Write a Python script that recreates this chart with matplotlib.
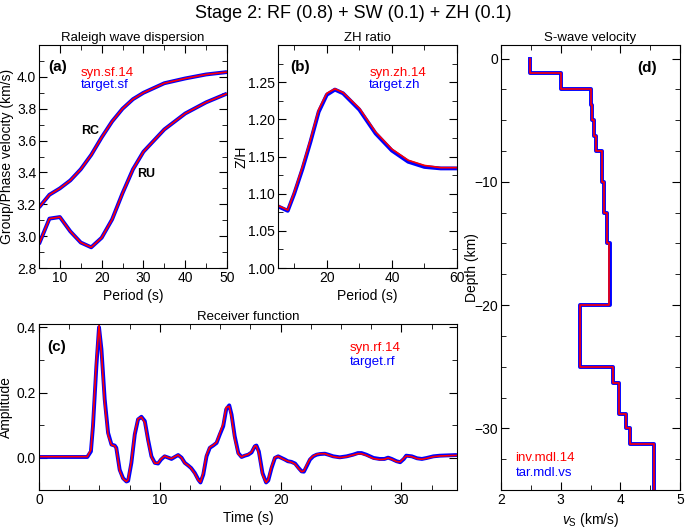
import numpy as np
import matplotlib
matplotlib.use("Agg")
import matplotlib.pyplot as plt
from matplotlib.ticker import MultipleLocator

plt.rcParams['font.family'] = ['Liberation Sans', 'DejaVu Sans']
plt.rcParams['mathtext.fontset'] = 'custom'
plt.rcParams['mathtext.rm'] = 'Liberation Sans'
plt.rcParams['mathtext.it'] = 'Liberation Sans:italic'

# (a) Rayleigh wave dispersion
sf_period = [5, 7.5, 10, 12.5, 15, 17.5, 20, 22.5, 25, 27.5, 30, 35, 40, 45, 50]
rc_target = [3.18, 3.26, 3.30, 3.35, 3.42, 3.51, 3.62, 3.72, 3.80, 3.86, 3.90, 3.96, 3.99, 4.015, 4.03]
rc_syn = [3.18, 3.26, 3.30, 3.35, 3.42, 3.51, 3.62, 3.72, 3.80, 3.86, 3.90, 3.96, 3.99, 4.015, 4.03]
ru_target = [2.95, 3.11, 3.12, 3.03, 2.96, 2.93, 2.99, 3.105, 3.27, 3.42, 3.53, 3.67, 3.77, 3.84, 3.895]
ru_syn = [2.95, 3.11, 3.12, 3.03, 2.96, 2.93, 2.99, 3.105, 3.27, 3.42, 3.53, 3.67, 3.77, 3.84, 3.895]

# (b) ZH ratio
zh_period = [5, 8, 10, 12.5, 15, 17.5, 20, 22.5, 25, 30, 35, 40, 45, 50, 55, 60]
zh_target = [1.083, 1.077, 1.100, 1.133, 1.170, 1.210, 1.233, 1.240, 1.235, 1.213, 1.181, 1.158, 1.143, 1.136, 1.134, 1.134]
zh_syn = [1.084, 1.078, 1.102, 1.136, 1.173, 1.213, 1.235, 1.241, 1.236, 1.215, 1.183, 1.160, 1.145, 1.138, 1.135, 1.135]

# (c) receiver function
rf_time = [0, 4.0, 4.3, 4.47, 4.75, 4.97, 5.17, 5.44, 5.72, 6.0, 6.27, 6.4, 6.68, 6.96, 7.24, 7.38,
           7.65, 7.93, 8.2, 8.48, 8.76, 9.03, 9.31, 9.59, 9.86, 10.1, 10.4, 10.7, 10.97, 11.24,
           11.52, 11.8, 12.07, 12.35, 12.6, 12.9, 13.2, 13.37, 13.6, 13.87, 14.14, 14.42, 14.7,
           14.97, 15.25, 15.5, 15.75, 15.94, 16.2, 16.5, 16.77, 17.04, 17.32, 17.6, 17.87, 18.0,
           18.2, 18.5, 18.8, 18.98, 19.25, 19.53, 19.8, 20.08, 20.36, 20.6, 20.9, 21.2, 21.5,
           21.74, 21.93, 22.15, 22.43, 22.7, 22.98, 23.26, 23.67, 23.95, 24.36, 24.9, 25.47, 26.0,
           26.4, 26.7, 27.1, 27.7, 28.2, 28.6, 28.9, 29.2, 29.6, 29.9, 30.2, 30.4, 30.86, 31.3,
           31.7, 32.1, 32.65, 33.2, 33.9, 34.6]
rf_target = [0.003, 0.003, 0.02, 0.097, 0.28, 0.40, 0.333, 0.18, 0.077, 0.041, 0.038, 0.031, -0.036,
             -0.062, -0.072, -0.070, -0.015, 0.072, 0.118, 0.126, 0.113, 0.056, 0.005, -0.015,
             -0.017, -0.005, 0.005, 0.001, -0.003, 0.003, 0.009, 0.001, -0.015, -0.023, -0.031,
             -0.046, -0.067, -0.075, -0.051, 0.005, 0.031, 0.038, 0.046, 0.072, 0.097, 0.149, 0.161,
             0.133, 0.067, 0.015, 0.003, 0.007, 0.010, 0.017, 0.036, 0.038, 0.020, -0.046, -0.075,
             -0.069, -0.031, 0.0, 0.005, 0.0, -0.005, -0.010, -0.012, -0.017, -0.031, -0.041,
             -0.042, -0.026, -0.005, 0.005, 0.010, 0.012, 0.013, 0.010, 0.005, 0.002, 0.005, 0.010,
             0.015, 0.015, 0.010, 0.0, -0.003, -0.003, 0.001, -0.003, -0.010, -0.013, -0.003, 0.007,
             0.005, -0.001, -0.003, 0.0, 0.005, 0.007, 0.008, 0.009]
rf_syn = [0.004, 0.004, 0.025, 0.11, 0.30, 0.405, 0.32, 0.165, 0.07, 0.040, 0.037, 0.028, -0.040,
          -0.064, -0.072, -0.066, -0.008, 0.078, 0.120, 0.125, 0.108, 0.050, 0.002, -0.016,
          -0.016, -0.003, 0.006, 0.001, -0.002, 0.004, 0.009, 0.000, -0.016, -0.023, -0.032,
          -0.048, -0.069, -0.074, -0.045, 0.010, 0.033, 0.039, 0.048, 0.076, 0.105, 0.155, 0.158,
          0.125, 0.058, 0.012, 0.003, 0.008, 0.011, 0.019, 0.037, 0.036, 0.014, -0.052, -0.075,
          -0.066, -0.026, 0.002, 0.005, -0.001, -0.006, -0.010, -0.013, -0.019, -0.033, -0.042,
          -0.040, -0.022, -0.003, 0.006, 0.011, 0.013, 0.013, 0.009, 0.004, 0.001, 0.004, 0.009,
          0.013, 0.013, 0.008, -0.002, -0.005, -0.004, 0.000, -0.004, -0.011, -0.012, -0.001, 0.006,
          0.004, -0.002, -0.004, -0.001, 0.004, 0.006, 0.007, 0.008]

# (d) S-wave velocity model (layer tops in km, vs in km/s)
mdl_depth = [0, 1.15, 2.5, 3.75, 5.0, 6.25, 7.5, 10.0, 12.5, 15.0, 20.0, 25.05, 26.3, 28.8, 30.0, 31.3, 35.0]
tar_vs = [2.49, 3.00, 3.50, 3.53, 3.56, 3.59, 3.69, 3.73, 3.77, 3.82, 3.32, 3.88, 3.97, 4.10, 4.16, 4.56]
inv_vs = [2.49, 3.00, 3.50, 3.53, 3.56, 3.60, 3.70, 3.72, 3.78, 3.81, 3.32, 3.88, 3.97, 4.10, 4.16, 4.57]

BLUE = '#0000ff'
RED = '#ff0000'


def style(ax):
    ax.tick_params(which='both', direction='in', top=True, right=True, labelsize=10, pad=2)
    ax.tick_params(which='major', length=6)
    ax.tick_params(which='minor', length=3.5)


def pair(ax, x, yt, ys):
    ax.plot(x, yt, color=BLUE, lw=2.8, solid_capstyle='butt')
    ax.plot(x, ys, color=RED, lw=1.2, solid_capstyle='butt')


fig = plt.figure(figsize=(6.85, 5.3), dpi=100)
fig.suptitle('Stage 2: RF (0.8) + SW (0.1) + ZH (0.1)', x=0.515, y=0.99, fontsize=13)

# (a)
ax1 = fig.add_axes([0.0569, 0.4943, 0.2745, 0.4208])
pair(ax1, sf_period, rc_target, rc_syn)
pair(ax1, sf_period, ru_target, ru_syn)
ax1.set_xlim(5, 50)
ax1.set_ylim(2.8, 4.2)
ax1.xaxis.set_major_locator(MultipleLocator(10))
ax1.xaxis.set_minor_locator(MultipleLocator(5))
ax1.yaxis.set_minor_locator(MultipleLocator(0.1))
ax1.set_yticks([2.8, 3.0, 3.2, 3.4, 3.6, 3.8, 4.0])
ax1.set_title('Raleigh wave dispersion', fontsize=9.5, pad=3)
ax1.set_xlabel('Period (s)', fontsize=10, labelpad=3)
ax1.set_ylabel('Group/Phase velocity (km/s)', fontsize=10, labelpad=2)
ax1.text(17.2, 3.66, 'RC', fontsize=9, fontweight='bold', ha='center', va='center')
ax1.text(30.7, 3.39, 'RU', fontsize=9, fontweight='bold', ha='center', va='center')
ax1.text(0.05, 0.90, '(a)', transform=ax1.transAxes, fontsize=11, fontweight='bold', va='center')
ax1.text(0.22, 0.875, 'syn.sf.14', transform=ax1.transAxes, color=RED, fontsize=9.5, va='center')
ax1.text(0.22, 0.82, 'target.sf', transform=ax1.transAxes, color=BLUE, fontsize=9.5, va='center')
style(ax1)

# (b)
ax2 = fig.add_axes([0.4058, 0.4943, 0.2613, 0.4208])
pair(ax2, zh_period, zh_target, zh_syn)
ax2.set_xlim(5, 60)
ax2.set_ylim(1.0, 1.3)
ax2.xaxis.set_major_locator(MultipleLocator(20))
ax2.xaxis.set_minor_locator(MultipleLocator(10))
ax2.set_yticks([1.00, 1.05, 1.10, 1.15, 1.20, 1.25])
ax2.yaxis.set_minor_locator(MultipleLocator(0.025))
ax2.yaxis.set_major_formatter(matplotlib.ticker.FormatStrFormatter('%.2f'))
ax2.set_title('ZH ratio', fontsize=9.5, pad=3)
ax2.set_xlabel('Period (s)', fontsize=10, labelpad=3)
ax2.set_ylabel('Z/H', fontsize=10, labelpad=0)
ax2.text(0.067, 0.90, '(b)', transform=ax2.transAxes, fontsize=11, fontweight='bold', va='center')
ax2.text(0.51, 0.875, 'syn.zh.14', transform=ax2.transAxes, color=RED, fontsize=9.5, va='center')
ax2.text(0.51, 0.82, 'target.zh', transform=ax2.transAxes, color=BLUE, fontsize=9.5, va='center')
style(ax2)

# (c)
ax3 = fig.add_axes([0.0569, 0.0755, 0.6102, 0.3132])
pair(ax3, rf_time, rf_target, rf_syn)
ax3.set_xlim(0, 34.6)
ax3.set_ylim(-0.098, 0.41)
ax3.xaxis.set_major_locator(MultipleLocator(10))
ax3.xaxis.set_minor_locator(MultipleLocator(2.5))
ax3.yaxis.set_major_locator(MultipleLocator(0.2))
ax3.yaxis.set_minor_locator(MultipleLocator(0.1))
ax3.set_title('Receiver function', fontsize=9.5, pad=3)
ax3.set_xlabel('Time (s)', fontsize=10, labelpad=3)
ax3.set_ylabel('Amplitude', fontsize=10, labelpad=3)
ax3.text(0.02, 0.86, '(c)', transform=ax3.transAxes, fontsize=11, fontweight='bold', va='center')
ax3.text(0.744, 0.855, 'syn.rf.14', transform=ax3.transAxes, color=RED, fontsize=9.5, va='center')
ax3.text(0.744, 0.77, 'target.rf', transform=ax3.transAxes, color=BLUE, fontsize=9.5, va='center')
style(ax3)

# (d)
ax4 = fig.add_axes([0.7314, 0.0755, 0.2613, 0.8396])
tar_steps = np.append(tar_vs, tar_vs[-1])
inv_steps = np.append(inv_vs, inv_vs[-1])
depth_neg = -np.array(mdl_depth)
ax4.step(tar_steps, depth_neg, where='pre', color=BLUE, lw=2.8)
ax4.step(inv_steps, depth_neg, where='pre', color=RED, lw=1.2)
ax4.set_xlim(2, 5)
ax4.set_ylim(-35, 1.1)
ax4.xaxis.set_major_locator(MultipleLocator(1))
ax4.xaxis.set_minor_locator(MultipleLocator(0.5))
ax4.set_yticks([0, -10, -20, -30])
ax4.yaxis.set_minor_locator(MultipleLocator(2.5))
ax4.set_title('S-wave velocity', fontsize=9.5, pad=3)
ax4.set_xlabel(r'$\it{v}_{\rm S}$ (km/s)', fontsize=10, labelpad=3)
ax4.set_ylabel('Depth (km)', fontsize=10)
ax4.yaxis.set_label_coords(-0.125, 0.5)
ax4.text(0.76, 0.948, '(d)', transform=ax4.transAxes, fontsize=11, fontweight='bold', va='center')
ax4.text(0.08, 0.072, 'inv.mdl.14', transform=ax4.transAxes, color=RED, fontsize=9.5, va='center')
ax4.text(0.08, 0.038, 'tar.mdl.vs', transform=ax4.transAxes, color=BLUE, fontsize=9.5, va='center')
style(ax4)

fig.savefig('out.png', dpi=100)
